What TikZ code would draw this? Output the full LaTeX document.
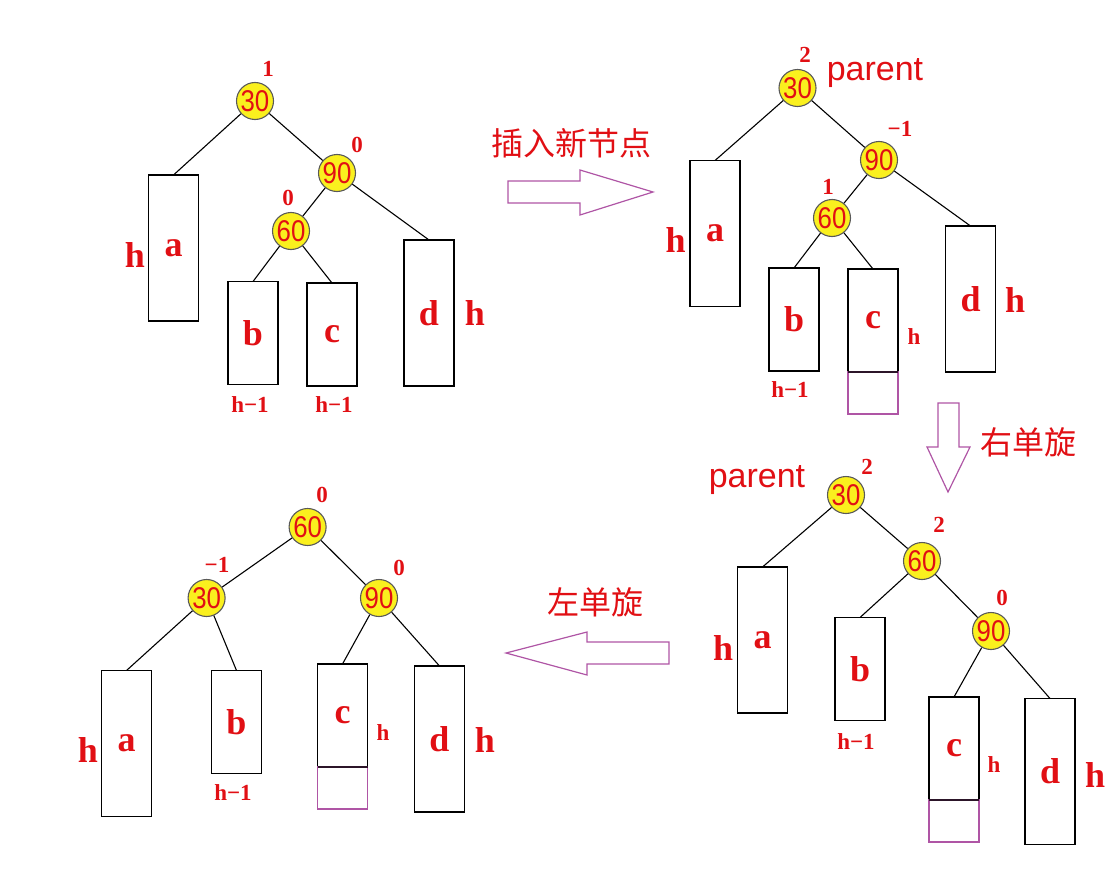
\documentclass[tikz,border=0pt]{standalone}
\usepackage{fontspec}
\setmainfont{Liberation Serif}
\newfontfamily\sansnum[FakeStretch=0.86]{Liberation Sans}
\newfontfamily\sanstag{Liberation Sans}
\newfontfamily\cjk{Noto Sans CJK SC}
\usetikzlibrary{positioning}
\definecolor{avlred}{RGB}{225,15,20}
\definecolor{ballyellow}{RGB}{250,240,30}
\definecolor{rotpurple}{RGB}{175,85,165}

\begin{document}
\begin{tikzpicture}[x=1pt,y=-1pt,line width=1.1pt,
    keynode/.style={circle,draw=black!65,fill=ballyellow,minimum size=37pt,inner sep=0pt,
        text=avlred,font=\sansnum\fontsize{30}{30}\selectfont},
    subtree/.style={rectangle,draw,minimum width=50pt,outer sep=0pt,inner sep=0pt,
        text=avlred,font=\bfseries\fontsize{36}{36}\selectfont},
    tall/.style={subtree,minimum height=146pt},
    short/.style={subtree,minimum height=103pt},
    newleaf/.style={rectangle,draw=rotpurple,minimum width=50pt,minimum height=42pt,outer sep=0pt},
    small/.style={text=avlred,inner sep=0pt,font=\bfseries\fontsize{23}{23}\selectfont},
    hbig/.style={text=avlred,inner sep=0pt,font=\bfseries\fontsize{36}{36}\selectfont},
    tag/.style={text=avlred,inner sep=0pt,font=\sanstag\fontsize{34}{34}\selectfont},
    cn/.style={text=avlred,inner sep=0pt,font=\cjk\fontsize{32}{32}\selectfont},
    fat/.style={draw=rotpurple,line width=1.2pt,line join=miter}]
    \useasboundingbox (0,0) rectangle (1115,880);

    % before the insertion
    \node[keynode] (A30) at (255,101) {30};
    \node[keynode] (A90) at (337,173) {90};
    \node[keynode] (A60) at (291,231) {60};
    \node[tall]  (Aa) at (173.5,248) {a};
    \node[short] (Ab) at (253,333) {b};
    \node[short] (Ac) at (332,334.5) {c};
    \node[tall]  (Ad) at (429,313) {d};
    \node[small] (A30bf) at (268,69) {1};
    \node[small] (A90bf) at (357,145) {0};
    \node[small] (A60bf) at (288,198) {0};
    \node[hbig]  (Aha) at (135,255) {h};
    \node[hbig]  (Ahd) at (475,313) {h};
    \node[small] (Ahb) at (250,405) {h−1};
    \node[small] (Ahc) at (334,405) {h−1};

    % after the insertion
    \node[keynode] (B30) at (797.5,88) {30};
    \node[keynode] (B90) at (879,160) {90};
    \node[keynode] (B60) at (832,218) {60};
    \node[tall]  (Ba) at (715,233.5) {a};
    \node[short] (Bb) at (794,319.5) {b};
    \node[short] (Bc) at (873,320.5) {c};
    \node[newleaf, below=0pt of Bc] (Bn) {};
    \node[tall]  (Bd) at (970.5,299) {d};
    \node[small] (B30bf) at (805,55) {2};
    \node[tag]   (Bpar) at (875,73) {parent};
    \node[small] (B90bf) at (900,129) {−1};
    \node[small] (B60bf) at (828,187) {1};
    \node[hbig]  (Bha) at (675.5,240) {h};
    \node[small] (Bhb) at (790,390) {h−1};
    \node[small] (Bhc) at (914,337) {h};
    \node[hbig]  (Bhd) at (1015,300) {h};

    % right rotation at 90
    \node[keynode] (C30) at (846,495) {30};
    \node[keynode] (C60) at (922,561) {60};
    \node[keynode] (C90) at (991,631) {90};
    \node[tall]  (Ca) at (762.5,640) {a};
    \node[short] (Cb) at (860,669) {b};
    \node[short] (Cc) at (954,748.5) {c};
    \node[newleaf, below=0pt of Cc] (Cn) {};
    \node[tall]  (Cd) at (1050,771.5) {d};
    \node[small] (C30bf) at (867,467) {2};
    \node[tag]   (Cpar) at (757,480) {parent};
    \node[small] (C60bf) at (939,525) {2};
    \node[small] (C90bf) at (1002,598) {0};
    \node[hbig]  (Cha) at (723,648) {h};
    \node[small] (Chb) at (856,742) {h−1};
    \node[small] (Chc) at (994,765) {h};
    \node[hbig]  (Chd) at (1095,775) {h};

    % left rotation at 30
    \node[keynode] (D60) at (307.6,527) {60};
    \node[keynode] (D30) at (206.6,598) {30};
    \node[keynode] (D90) at (379,598) {90};
    \node[tall]  (Da) at (126.5,743.5) {a};
    \node[short] (Db) at (236.5,722) {b};
    \node[short] (Dc) at (342.5,715.5) {c};
    \node[newleaf, below=0pt of Dc] (Dn) {};
    \node[tall]  (Dd) at (439.5,739) {d};
    \node[small] (D60bf) at (322,495) {0};
    \node[small] (D30bf) at (217,565) {−1};
    \node[small] (D90bf) at (399,568) {0};
    \node[hbig]  (Dha) at (88,750) {h};
    \node[small] (Dhb) at (233,793) {h−1};
    \node[small] (Dhc) at (383,733) {h};
    \node[hbig]  (Dhd) at (485,740) {h};

    \foreach \u/\v in {A30/A90,A90/A60,B30/B90,B90/B60,C30/C60,C60/C90,D60/D30,D60/D90}
        \draw (\u) -- (\v);
    \foreach \u/\v in {A30/Aa,A90/Ad,A60/Ab,A60/Ac,B30/Ba,B90/Bd,B60/Bb,B60/Bc,
                       C30/Ca,C60/Cb,C90/Cc,C90/Cd,D30/Da,D30/Db,D90/Dc,D90/Dd}
        \draw (\u) -- (\v.north);
    \foreach \X in {Bc,Cc,Dc}
        \draw[line width=2pt,black!75!rotpurple] (\X.south west) -- (\X.south east);

    \node[cn] (ins) at (571,143) {插入新节点};
    \node[cn] (rr) at (1028,442) {右单旋};
    \node[cn] (rl) at (595,602) {左单旋};
    \draw[fat] (508,181) -- (580,181) -- (580,170) -- (653,192) -- (580,215) -- (580,203) -- (508,203) -- cycle;
    \draw[fat] (938,403) -- (938,447) -- (927,447) -- (948,492) -- (970,447) -- (959,447) -- (959,403) -- cycle;
    \draw[fat] (669,642) -- (587,642) -- (587,632) -- (506,653) -- (587,675) -- (587,664) -- (669,664) -- cycle;
\end{tikzpicture}
\end{document}
